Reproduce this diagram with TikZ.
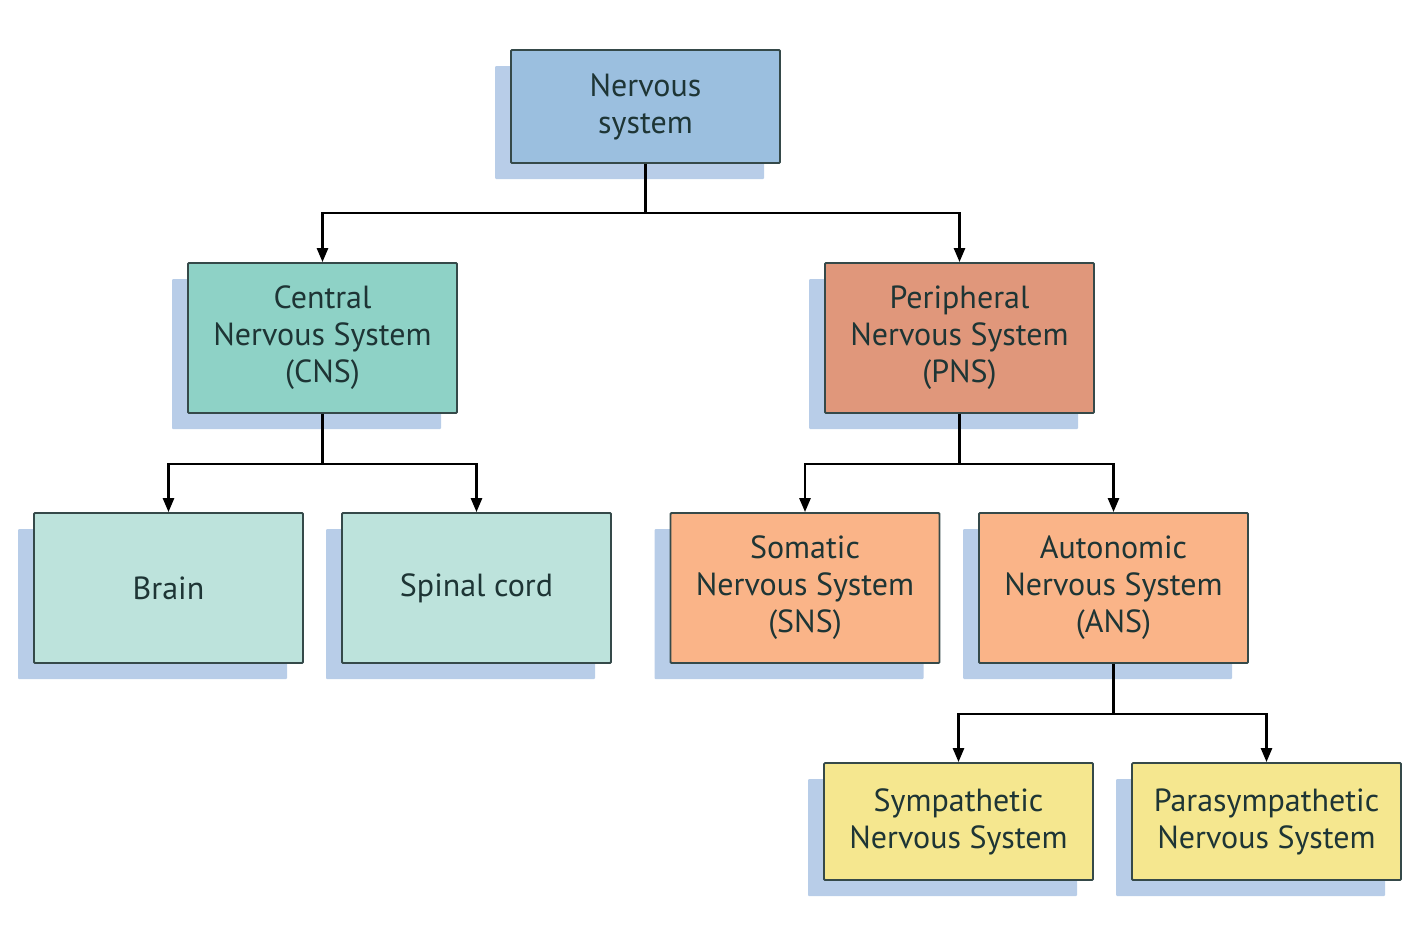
\documentclass[tikz,border=0pt]{standalone}
\usepackage{fontspec}
\setmainfont{PT Sans}
\usetikzlibrary{arrows.meta,shadows}

\definecolor{nervfill}{HTML}{9BBFDF}
\definecolor{cnsfill}{HTML}{8ED2C6}
\definecolor{pnsfill}{HTML}{E0977B}
\definecolor{cnspart}{HTML}{BDE3DC}
\definecolor{pnspart}{HTML}{FAB488}
\definecolor{anspart}{HTML}{F5E78F}
\definecolor{shadowblue}{HTML}{B8CDE8}
\definecolor{inkdark}{HTML}{1E3535}

\begin{document}
\begin{tikzpicture}[x=1pt,y=-1pt,
  box/.style={draw=inkdark!90, line width=1.8pt, rounded corners=1pt,
    minimum width=269pt, minimum height=150pt, inner sep=0pt,
    align=center, text=inkdark, font=\fontsize{32}{37}\selectfont,
    drop shadow={shadow xshift=-16pt, shadow yshift=-16pt,
      fill=shadowblue, opacity=1}},
  link/.style={line width=2.6pt, -{Triangle[width=11pt,length=14pt]}}]
\useasboundingbox (0,0) rectangle (1410,937);

\node[box, fill=nervfill, minimum height=113pt] (nerv) at (645.5,106.5) {Nervous\\system};

\node[box, fill=cnsfill] (cns) at (322.5,338) {Central\\Nervous System\\(CNS)};
\node[box, fill=pnsfill] (pns) at (959.5,338) {Peripheral\\Nervous System\\(PNS)};

\node[box, fill=cnspart] (brain) at (168.5,588) {Brain};
\node[box, fill=cnspart] (spinal) at (476.5,588) {Spinal cord};
\node[box, fill=pnspart] (sns) at (805,588) {Somatic\\Nervous System\\(SNS)};
\node[box, fill=pnspart] (ans) at (1113.5,588) {Autonomic\\Nervous System\\(ANS)};

\node[box, fill=anspart, minimum height=117pt] (symp) at (958.5,821.5) {Sympathetic\\Nervous System};
\node[box, fill=anspart, minimum height=117pt] (para) at (1266.5,821.5) {Parasympathetic\\Nervous System};

% elbow connectors
\draw[link] (nerv.south) -- ++(0,49) -| (cns.north);
\draw[link] (nerv.south) -- ++(0,49) -| (pns.north);
\draw[link] (cns.south) -- ++(0,50) -| (brain.north);
\draw[link] (cns.south) -- ++(0,50) -| (spinal.north);
\draw[link] (pns.south) -- ++(0,50) -| (sns.north);
\draw[link] (pns.south) -- ++(0,50) -| (ans.north);
\draw[link] (ans.south) -- ++(0,50) -| (symp.north);
\draw[link] (ans.south) -- ++(0,50) -| (para.north);
\end{tikzpicture}
\end{document}
